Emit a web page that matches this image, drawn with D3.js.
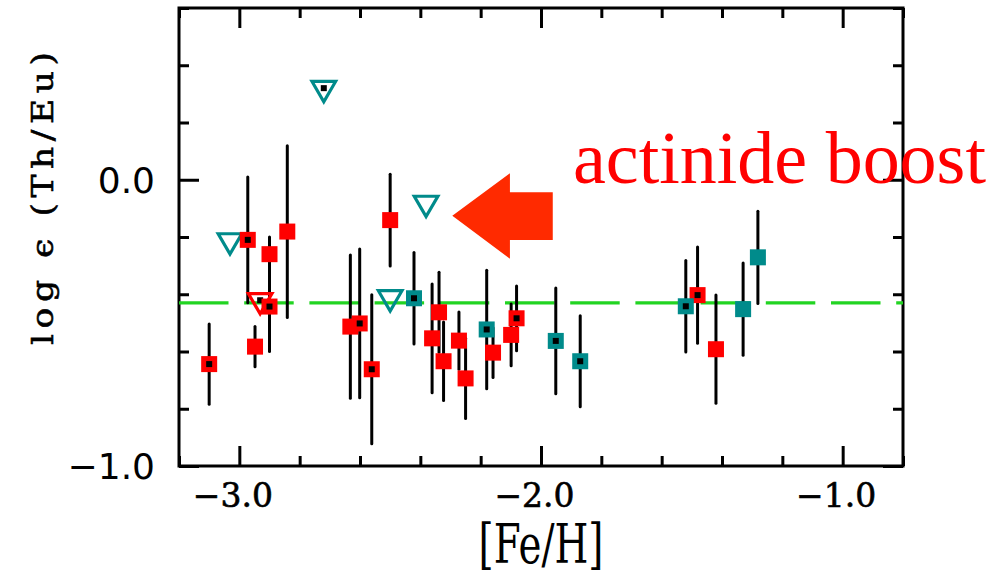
<!DOCTYPE html>
<html><head><meta charset="utf-8">
<script src="https://cdn.jsdelivr.net/npm/d3@7"></script>
<style>body{margin:0;background:#fff}</style>
</head><body><svg id="c" width="990" height="577"></svg>
<script>
// ---- data ----
const redX   = [-3.100,-2.972,-2.900,-2.841,-2.900,-2.948,-2.632,-2.601,-2.561,-2.500,-2.361,-2.338,-2.323,-2.272,-2.250,-2.159,-2.099,-2.081,-1.481,-1.420];
const redY   = [-0.644,-0.210,-0.260,-0.181,-0.443,-0.583,-0.513,-0.502,-0.662,-0.141,-0.554,-0.463,-0.634,-0.562,-0.694,-0.604,-0.542,-0.484,-0.403,-0.592];
const redErr = [ 0.140, 0.220, 0.060, 0.300, 0.157, 0.070, 0.250, 0.260, 0.260, 0.160, 0.190, 0.140, 0.137, 0.100, 0.140, 0.087, 0.108, 0.113, 0.168, 0.189];
const redDot = [1,1,0,0,1,0,0,1,1,0,0,0,0,0,0,0,0,1,1,0];

const tealX   = [-2.421,-2.180,-1.951,-1.870,-1.520,-1.330,-1.281];
const tealY   = [-0.414,-0.523,-0.563,-0.634,-0.442,-0.452,-0.271];
const tealErr = [ 0.160, 0.207, 0.185, 0.159, 0.160, 0.161, 0.161];
const tealDot = [1,1,1,1,1,0,0];

const tealLimX   = [-3.031,-2.720,-2.381,-2.500];
const tealLimY   = [-0.212, 0.320,-0.081,-0.411];
const tealLimDot = [0,1,0,0];

const redLimX   = [-2.931];
const redLimY   = [-0.421];
const redLimDot = [1];

const refLevel = -0.43;

const xMajor = [-3.0,-2.0,-1.0];
const xMajorLabels = ["\u22123.0","\u22122.0","\u22121.0"];
const yMajor = [0.0,-1.0];
const yMajorLabels = ["0.0","\u22121.0"];

const xLabel = "[Fe/H]";
const yLabel = "log \u03f5 (Th/Eu)";
const noteText = "actinide boost";
const noteAt = [-1.894, -0.0124];
// arrow outline in data units (annotation)
const arrowX = [-2.294,-2.103,-2.103,-1.961,-1.961,-2.103,-2.103];
const arrowY = [-0.1256,0.0225,-0.044,-0.044,-0.2105,-0.2105,-0.276];

// ---- layout ----
const svg = d3.select("#c");
svg.append("rect").attr("width",990).attr("height",577).attr("fill","#fff");
const x = d3.scaleLinear().domain([-3.2,-0.8]).range([179,903]);
const y = d3.scaleLinear().domain([-1.0,0.6]).range([466,8]);
const RED="#ff0000", TEAL="#008b8b", GREEN="#22d422";

const xMinor = d3.range(-3.2,-0.79,0.2).map(v=>+v.toFixed(1)).filter(v=>!xMajor.includes(v));
const yMinor = d3.range(-1.0,0.61,0.2).map(v=>+v.toFixed(1)).filter(v=>!yMajor.includes(v));

function styleAxis(g){
  g.select(".domain").remove();
  g.selectAll(".tick line").attr("stroke","#000").attr("stroke-width",3);
}
// bottom
const gb = svg.append("g").attr("transform","translate(0,466)")
  .call(d3.axisBottom(x).tickValues(xMajor).tickSize(-20).tickFormat((d,i)=>xMajorLabels[i])).call(styleAxis);
gb.selectAll("text").attr("y",41).attr("dy",0).attr("dx",-7)
  .attr("font-family","DejaVu Serif").attr("font-size",33).attr("fill","#000")
  .attr("stroke","#000").attr("stroke-width",0.6);
svg.append("g").attr("transform","translate(0,466)")
  .call(d3.axisBottom(x).tickValues(xMinor).tickSize(-10).tickFormat("")).call(styleAxis);
// top
svg.append("g").attr("transform","translate(0,8)")
  .call(d3.axisTop(x).tickValues(xMajor).tickSize(-20).tickFormat("")).call(styleAxis);
svg.append("g").attr("transform","translate(0,8)")
  .call(d3.axisTop(x).tickValues(xMinor).tickSize(-10).tickFormat("")).call(styleAxis);
// left
const gl = svg.append("g").attr("transform","translate(179,0)")
  .call(d3.axisLeft(y).tickValues(yMajor).tickSize(-20).tickFormat((d,i)=>yMajorLabels[i])).call(styleAxis);
gl.selectAll("text").attr("x",-24).attr("dy","0.36em")
  .attr("font-family","DejaVu Sans").attr("font-size",36).attr("fill","#000");
svg.append("g").attr("transform","translate(179,0)")
  .call(d3.axisLeft(y).tickValues(yMinor).tickSize(-10).tickFormat("")).call(styleAxis);
// right
svg.append("g").attr("transform","translate(903,0)")
  .call(d3.axisRight(y).tickValues(yMajor).tickSize(-20).tickFormat("")).call(styleAxis);
svg.append("g").attr("transform","translate(903,0)")
  .call(d3.axisRight(y).tickValues(yMinor).tickSize(-10).tickFormat("")).call(styleAxis);

// frame
svg.append("rect").attr("x",179).attr("y",8).attr("width",724).attr("height",458)
  .attr("fill","none").attr("stroke","#000").attr("stroke-width",3);

// axis titles
svg.append("text").attr("x",541).attr("y",563).attr("text-anchor","middle")
  .attr("font-family","DejaVu Serif").attr("font-size",54)
  .attr("textLength",125).attr("lengthAdjust","spacingAndGlyphs").text(xLabel);
const SX = 1.15;
const yl = svg.append("text").attr("transform",`translate(53,198.5) rotate(-90) scale(${SX},1)`).attr("text-anchor","middle")
  .attr("font-family","DejaVu Serif").attr("font-size",30)
  .attr("stroke","#000").attr("stroke-width",0.6).text(yLabel);
const natural = yl.node().getComputedTextLength();
const nChars = yLabel.length;
const ls = (293/SX - natural) / (nChars - 1);
yl.attr("letter-spacing", ls).attr("dx", ls/2);

// reference dashed line
svg.append("path").attr("d",d3.line()([[x(-3.2),y(refLevel)],[x(-0.8),y(refLevel)]]))
  .attr("stroke",GREEN).attr("stroke-width",3.2).attr("stroke-dasharray","49.5,15.7").attr("fill","none");

// error bars
const sq = redX.map((v,i)=>({x:v,y:redY[i],e:redErr[i],dot:redDot[i],c:RED}))
  .concat(tealX.map((v,i)=>({x:v,y:tealY[i],e:tealErr[i],dot:tealDot[i],c:TEAL})));
svg.append("g").selectAll("line").data(sq).join("line")
  .attr("x1",d=>x(d.x)).attr("x2",d=>x(d.x))
  .attr("y1",d=>y(d.y+d.e)).attr("y2",d=>y(d.y-d.e))
  .attr("stroke","#000").attr("stroke-width",3).attr("stroke-linecap","round");

// upper-limit triangles
const tri = redLimX.map((v,i)=>({x:v,y:redLimY[i],dot:redLimDot[i],c:RED}))
  .concat(tealLimX.map((v,i)=>({x:v,y:tealLimY[i],dot:tealLimDot[i],c:TEAL})));
const triPath = "M-11.8,-6.7L11.8,-6.7L0,13.6Z";
const gt = svg.append("g").selectAll("g").data(tri).join("g")
  .attr("transform",d=>`translate(${x(d.x)},${y(d.y)})`);
gt.append("path").attr("d",triPath).attr("fill","none").attr("stroke",d=>d.c).attr("stroke-width",3.2);
gt.filter(d=>d.dot).append("rect").attr("x",-3).attr("y",-3).attr("width",6).attr("height",6).attr("fill","#000");

// squares
const gs = svg.append("g").selectAll("g").data(sq).join("g")
  .attr("transform",d=>`translate(${x(d.x)},${y(d.y)})`);
gs.append("rect").attr("x",-8).attr("y",-8).attr("width",16).attr("height",16).attr("fill",d=>d.c);
gs.filter(d=>d.dot).append("rect").attr("x",-3).attr("y",-3).attr("width",6).attr("height",6).attr("fill","#000");

// annotation arrow and text
svg.append("path").attr("d",d3.line()(arrowX.map((v,i)=>[x(v),y(arrowY[i])]))+"Z").attr("fill","#ff2a00");
svg.append("text").attr("x",x(noteAt[0])).attr("y",y(noteAt[1]))
  .attr("font-family","Liberation Serif").attr("font-size",74).attr("fill",RED)
  .attr("textLength",413).attr("lengthAdjust","spacingAndGlyphs").text(noteText);
</script></body></html>
